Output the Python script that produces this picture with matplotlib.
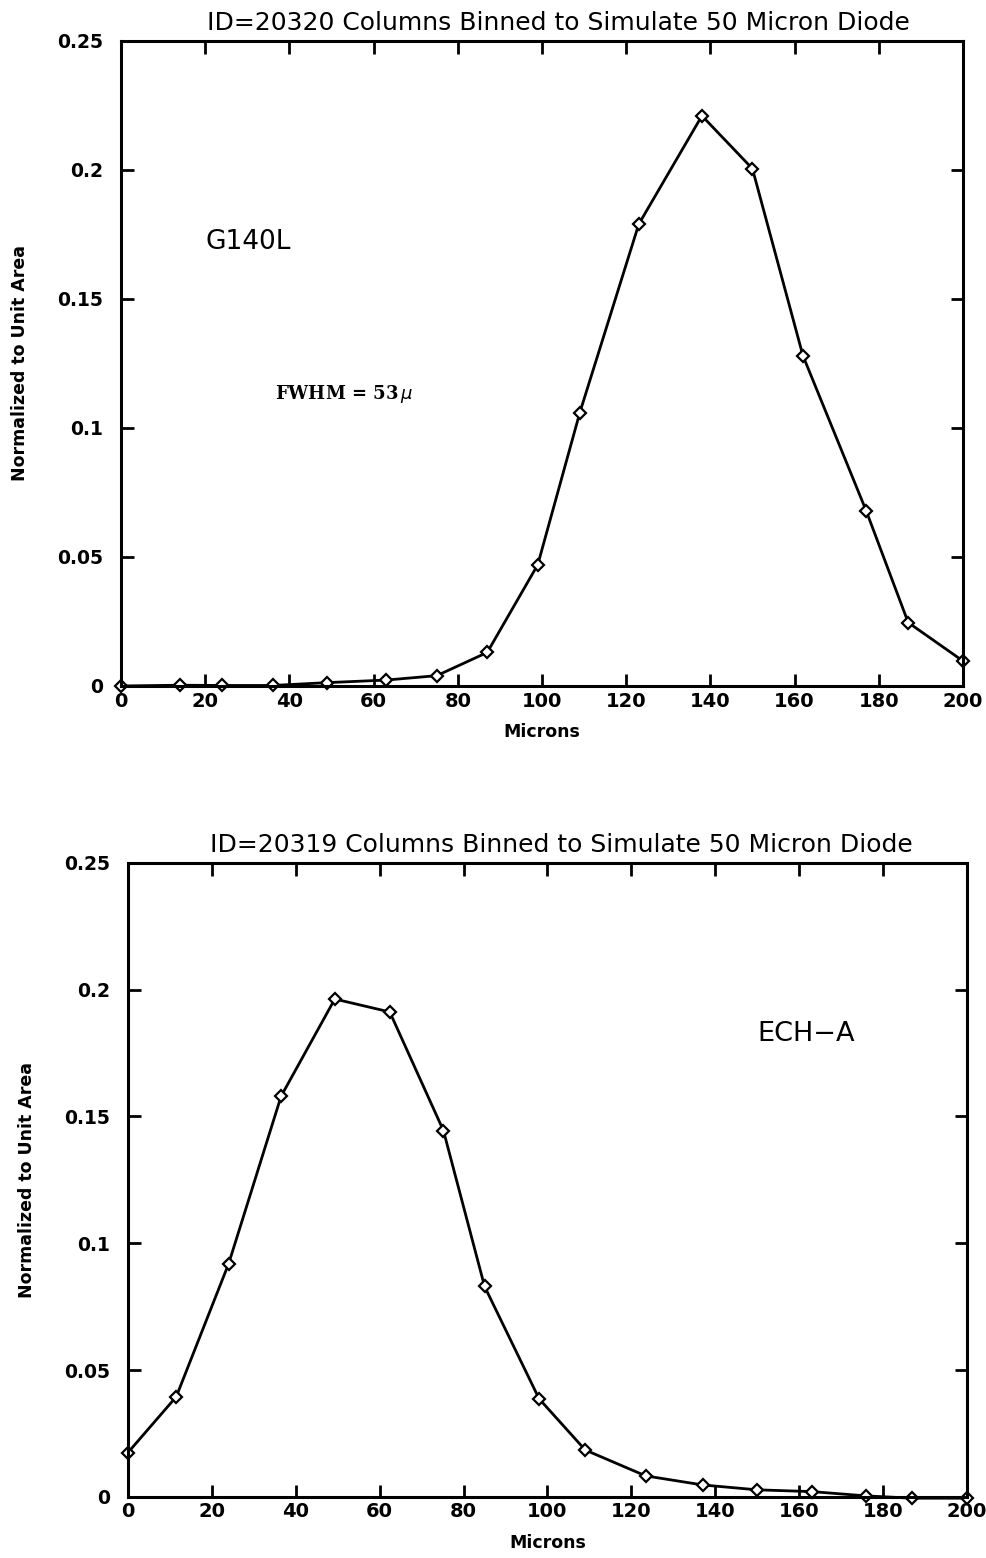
import matplotlib
matplotlib.use("Agg")
import matplotlib.pyplot as plt

# top panel: G140L
top_x = [0, 14, 24, 36, 49, 63, 75, 87, 99, 109, 123, 138, 150, 162, 177, 187, 200]
top_y = [0, 0.0003, 0.0002, 0.0002, 0.0013, 0.0023, 0.004, 0.013, 0.047, 0.106,
         0.179, 0.221, 0.2005, 0.128, 0.068, 0.0246, 0.0097]

# bottom panel: ECH-A
bot_x = [0, 11.5, 24, 36.5, 49.3, 62.4, 75.2, 85, 98, 109, 123.4, 137.1, 150, 163, 176, 187, 200]
bot_y = [0.0175, 0.0395, 0.092, 0.158, 0.1963, 0.1912, 0.1444, 0.083, 0.0387, 0.0185,
         0.0083, 0.0047, 0.0028, 0.0021, 0.0004, -0.0005, -0.0005]

x_ticks = [0, 20, 40, 60, 80, 100, 120, 140, 160, 180, 200]
y_ticks = [0, 0.05, 0.1, 0.15, 0.2, 0.25]
y_labels = ["0", "0.05", "0.1", "0.15", "0.2", "0.25"]

titles = ["ID=20320 Columns Binned to Simulate 50 Micron Diode",
          "ID=20319 Columns Binned to Simulate 50 Micron Diode"]


def style_axes(ax, title, title_x):
    ax.set_xlim(0, 200)
    ax.set_ylim(0, 0.25)
    ax.set_xticks(x_ticks)
    ax.set_xticklabels([str(t) for t in x_ticks], fontweight="bold", fontsize=14)
    ax.set_yticks(y_ticks)
    ax.set_yticklabels(y_labels, fontweight="bold", fontsize=13.5)
    ax.tick_params(axis="both", direction="in", length=9, width=2,
                   top=True, right=True)
    ax.tick_params(axis="x", pad=4)
    ax.tick_params(axis="y", pad=13)
    for s in ax.spines.values():
        s.set_linewidth(2.2)
    ax.set_xlabel("Microns", fontweight="bold", fontsize=12.5, labelpad=9)
    ax.set_ylabel("Normalized to Unit Area", fontweight="bold", fontsize=12.5, labelpad=20)
    ax.set_title(title, fontsize=18, pad=8, x=title_x)


fig = plt.figure(figsize=(9.87, 15.58), dpi=100)

ax1 = fig.add_axes([0.1226, 0.5597, 0.853, 0.414])
ax1.plot(top_x, top_y, color="black", lw=2, marker="D", ms=6.5,
         mfc="white", mec="black", mew=1.6, clip_on=False)
style_axes(ax1, titles[0], 0.52)
ax1.text(20, 0.172, "G140L", fontsize=19, va="center", ha="left")
ax1.text(36.6, 0.113, r"FWHM = 53$\,\mu$", fontsize=13, fontweight="bold",
         family="DejaVu Serif", va="center", ha="left")

ax2 = fig.add_axes([0.1297, 0.0392, 0.850, 0.407])
ax2.plot(bot_x, bot_y, color="black", lw=2, marker="D", ms=6.5,
         mfc="white", mec="black", mew=1.6, clip_on=False)
style_axes(ax2, titles[1], 0.517)
ax2.text(150, 0.1826, "ECH\u2212A", fontsize=19.5, va="center", ha="left")

fig.savefig("out.png", dpi=100)
